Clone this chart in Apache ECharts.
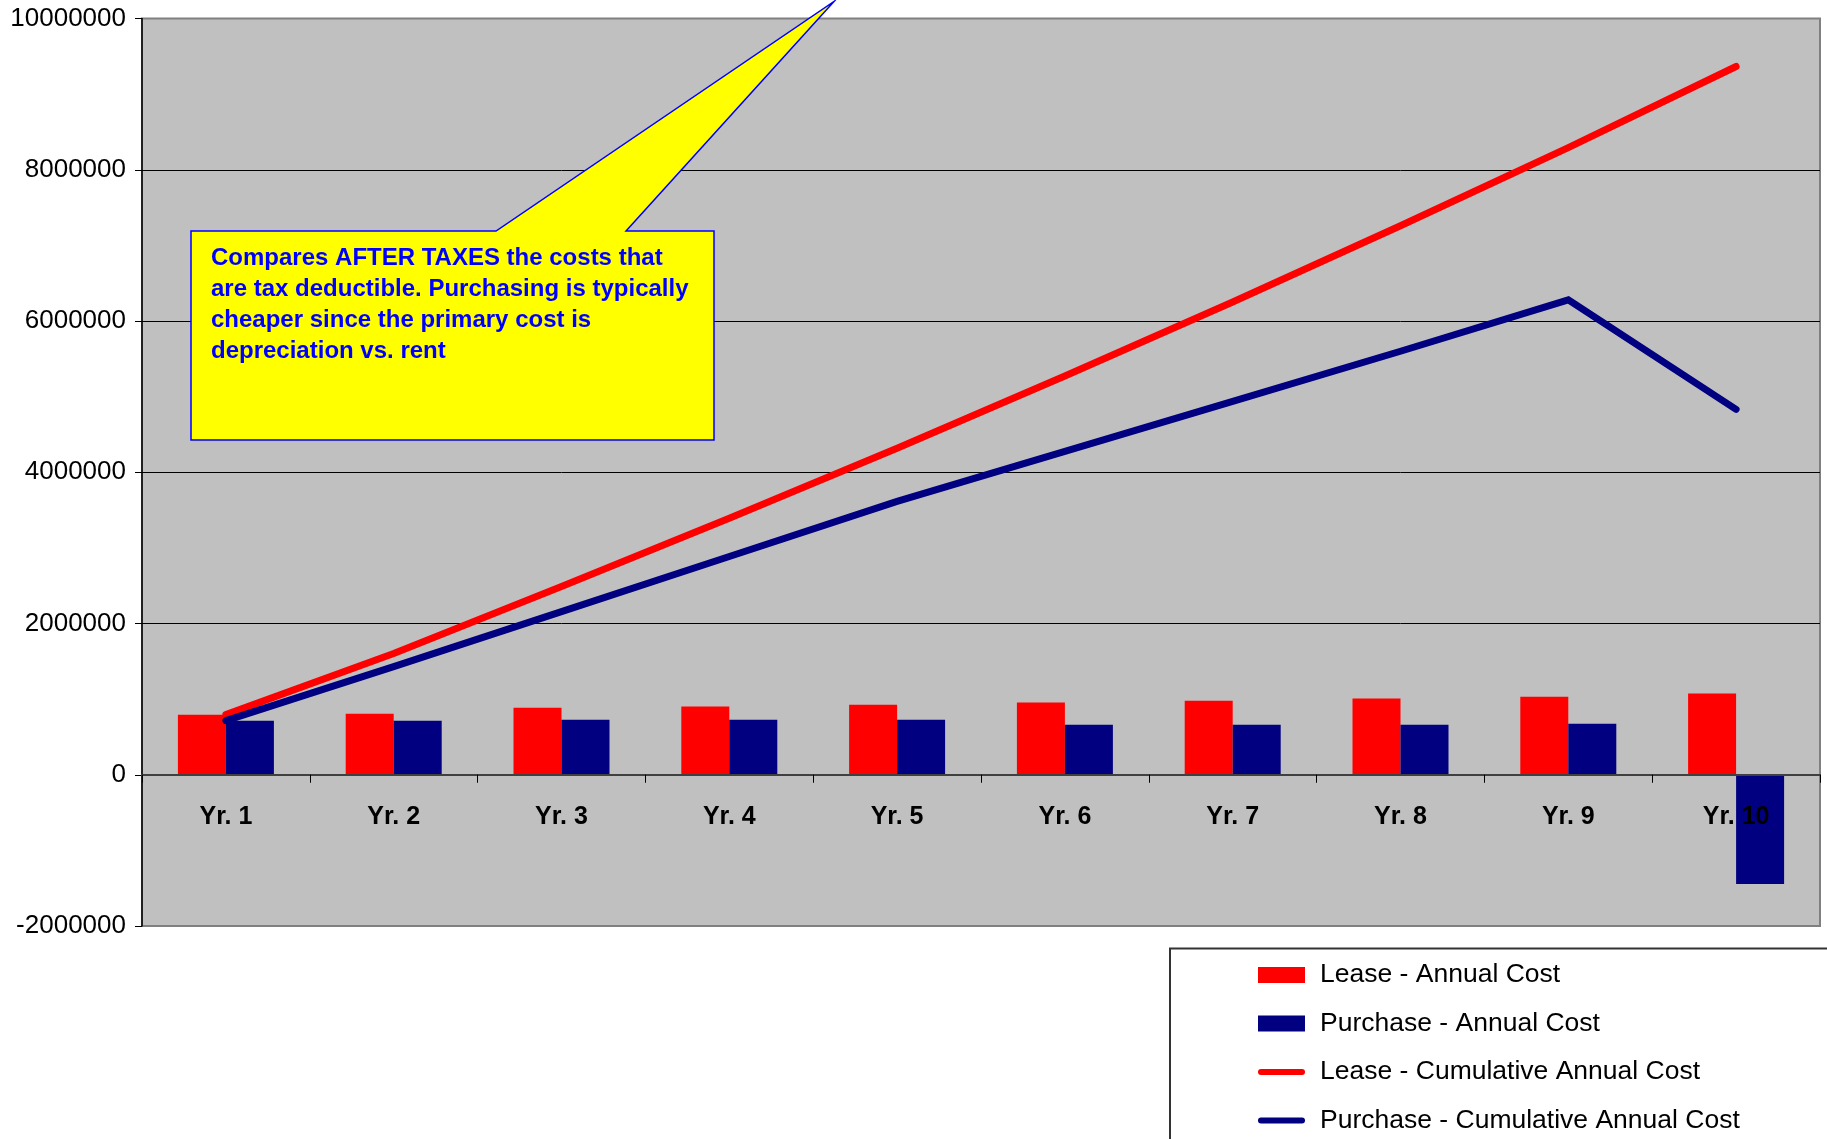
<!DOCTYPE html>
<html>
<head>
<meta charset="utf-8">
<script src="https://cdn.jsdelivr.net/npm/echarts@6/dist/echarts.min.js"></script>
<style>
html,body{margin:0;padding:0;background:#fff;}
#chart{width:1827px;height:1139px;}
</style>
</head>
<body>
<div id="chart"></div>
<script>
const categories = ['Yr. 1','Yr. 2','Yr. 3','Yr. 4','Yr. 5','Yr. 6','Yr. 7','Yr. 8','Yr. 9','Yr. 10'];
const leaseAnnual = [795000, 808000, 887000, 901000, 927000, 954000, 980000, 1007000, 1033000, 1073000];
const purchaseAnnual = [715000, 715000, 728000, 728000, 728000, 662000, 662000, 662000, 675000, -1444000];
const leaseCumulative = [795000, 1603000, 2490000, 3391000, 4318000, 5272000, 6252000, 7259000, 8292000, 9365000];
const purchaseCumulative = [715000, 1430000, 2158000, 2886000, 3614000, 4276000, 4938000, 5600000, 6280000, 4831000];
const yTicks = { min: -2000000, max: 10000000, interval: 2000000 };
const seriesNames = ['Lease - Annual Cost','Purchase - Annual Cost','Lease - Cumulative Annual Cost','Purchase - Cumulative Annual Cost'];
const calloutText = 'Compares AFTER TAXES the costs that\nare tax deductible. Purchasing is typically\ncheaper since the primary cost is\ndepreciation vs. rent';

const FONT = 'Arial, "Liberation Sans", sans-serif';
const RED = '#FF0000', NAVY = '#000080';
const lineIcon = 'path://M3,0 L44,0 A3,3 0 0 1 44,6 L3,6 A3,3 0 0 1 3,0 Z';

const chart = echarts.init(document.getElementById('chart'), null, {renderer:'canvas'});
chart.setOption({
  animation: false,
  backgroundColor: '#FFFFFF',
  textStyle: { fontFamily: FONT },
  grid: {
    left: 142, right: 7, top: 18.5, bottom: 213,
    containLabel: false,
    outerBoundsMode: 'none',
    show: true,
    backgroundColor: '#C0C0C0',
    borderColor: '#808080',
    borderWidth: 2
  },
  legend: {
    orient: 'vertical',
    left: 1170, top: 948.5,
    height: 300,
    itemWidth: 47, itemHeight: 16,
    itemGap: 21.5,
    padding: [13, 90, 40, 88],
    borderColor: '#333333', borderWidth: 2,
    backgroundColor: '#FFFFFF',
    textStyle: { fontSize: 26.5, color: '#000', fontFamily: FONT, lineHeight: 26, padding: [0,0,0,10] },
    data: [
      { name: seriesNames[0], icon: 'rect' },
      { name: seriesNames[1], icon: 'rect' },
      { name: seriesNames[2], icon: lineIcon },
      { name: seriesNames[3], icon: lineIcon }
    ]
  },
  xAxis: {
    type: 'category',
    data: categories,
    boundaryGap: true,
    z: 5,
    axisLine: { show: true, onZero: true, lineStyle: { color: '#404040', width: 2 } },
    axisTick: { show: true, length: 8, alignWithLabel: false, lineStyle: { color: '#000', width: 1 } },
    axisLabel: { color: '#000', fontSize: 25, fontWeight: 'bold', fontFamily: FONT, margin: -121 },
    splitLine: { show: false }
  },
  yAxis: {
    type: 'value',
    min: yTicks.min, max: yTicks.max, interval: yTicks.interval,
    axisLine: { show: true, lineStyle: { color: '#000', width: 1.5 } },
    axisTick: { show: true, length: 7, inside: false, lineStyle: { color: '#000' } },
    axisLabel: { color: '#000', fontSize: 26, fontFamily: FONT, margin: 16, formatter: function (v) { return String(v); } },
    splitLine: { show: true, lineStyle: { color: ['#808080','#404040','#000','#000','#000','#000','#808080'], width: 1 } }
  },
  series: [
    { name: seriesNames[0], type: 'bar', data: leaseAnnual, barWidth: 48, barGap: '0%', itemStyle: { color: RED } },
    { name: seriesNames[1], type: 'bar', data: purchaseAnnual, barWidth: 48, barGap: '0%', itemStyle: { color: NAVY } },
    { name: seriesNames[2], type: 'line', data: leaseCumulative, symbol: 'none', showSymbol: false, z: 3,
      lineStyle: { color: RED, width: 7, cap: 'round', join: 'round' }, itemStyle: { color: RED } },
    { name: seriesNames[3], type: 'line', data: purchaseCumulative, symbol: 'none', showSymbol: false, z: 3,
      lineStyle: { color: NAVY, width: 7, cap: 'round', join: 'miter' }, itemStyle: { color: NAVY } }
  ],
  graphic: [
    {
      type: 'polygon', z: 100,
      shape: { points: [[191,231],[496,231],[834,1.5],[626,231],[714,231],[714,440],[191,440]] },
      style: { fill: '#FFFF00', stroke: '#0000FF', lineWidth: 1.5 }
    },
    {
      type: 'text', z: 101, left: 211, top: 243,
      style: { text: calloutText, fill: '#0000FF', font: 'bold 24px ' + FONT, lineHeight: 31 }
    }
  ]
});
</script>
</body>
</html>
